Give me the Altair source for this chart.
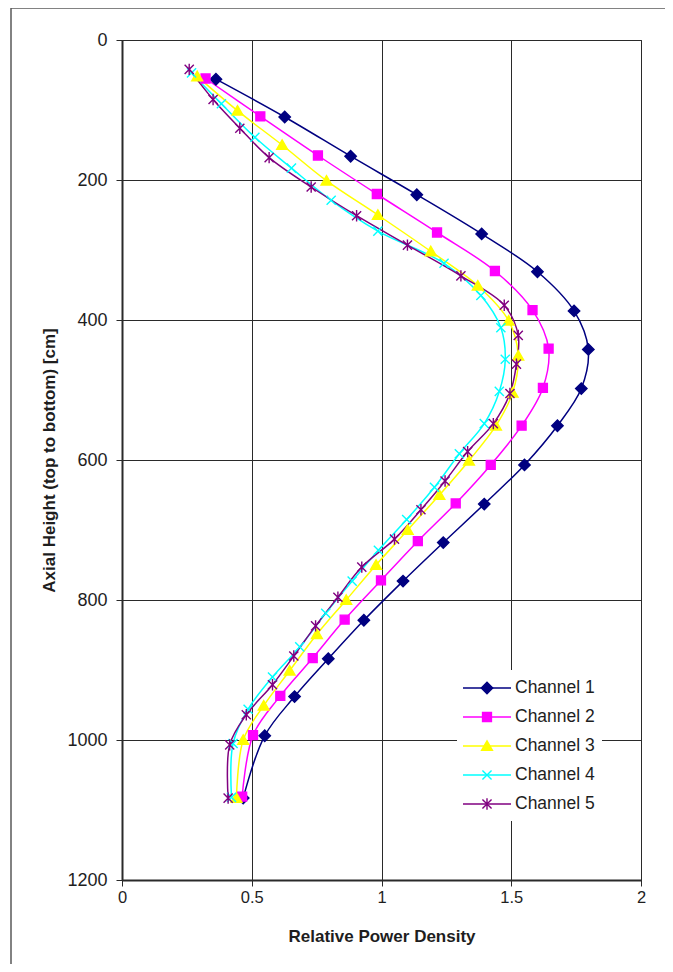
import altair as alt
import pandas as pd

series_names = ["Channel 1", "Channel 2", "Channel 3", "Channel 4", "Channel 5"]

ch1_height = [56, 110, 166, 221, 277, 331, 387, 442, 498, 551, 607, 663, 718, 773, 829, 884, 938, 994, 1083]
ch1_rpd = [0.362, 0.627, 0.881, 1.136, 1.386, 1.601, 1.742, 1.797, 1.770, 1.678, 1.551, 1.396, 1.238, 1.083, 0.932, 0.795, 0.665, 0.550, 0.467]

ch2_height = [55, 109, 165, 220, 275, 330, 386, 441, 497, 551, 607, 662, 716, 772, 828, 883, 937, 993, 1081]
ch2_rpd = [0.322, 0.533, 0.755, 0.982, 1.214, 1.437, 1.582, 1.644, 1.622, 1.540, 1.421, 1.286, 1.140, 0.998, 0.858, 0.735, 0.610, 0.505, 0.463]

ch3_height = [52, 101, 150, 201, 250, 302, 351, 401, 451, 504, 551, 601, 650, 700, 750, 800, 849, 901, 951, 1000, 1083]
ch3_rpd = [0.290, 0.445, 0.617, 0.788, 0.986, 1.190, 1.371, 1.490, 1.527, 1.505, 1.441, 1.337, 1.223, 1.101, 0.979, 0.864, 0.751, 0.646, 0.546, 0.467, 0.441]

ch4_height = [47, 91, 139, 183, 229, 273, 319, 365, 411, 456, 502, 548, 591, 639, 685, 729, 773, 819, 867, 910, 956, 1005, 1082]
ch4_rpd = [0.268, 0.383, 0.512, 0.653, 0.806, 0.986, 1.241, 1.383, 1.460, 1.477, 1.454, 1.396, 1.300, 1.204, 1.097, 0.988, 0.887, 0.785, 0.685, 0.580, 0.486, 0.428, 0.422]

ch5_height = [42, 85, 126, 168, 210, 251, 293, 337, 379, 422, 463, 505, 548, 588, 630, 671, 713, 753, 796, 837, 880, 921, 964, 1007, 1083]
ch5_rpd = [0.259, 0.351, 0.454, 0.567, 0.729, 0.904, 1.100, 1.306, 1.473, 1.527, 1.520, 1.495, 1.431, 1.332, 1.245, 1.152, 1.050, 0.924, 0.832, 0.746, 0.662, 0.580, 0.479, 0.415, 0.409]

x_ticks = [0, 0.5, 1, 1.5, 2]
y_ticks = [0, 200, 400, 600, 800, 1000, 1200]

line_colors = ["#000080", "#FF00FF", "#FFFF00", "#00FFFF", "#800080"]
marker_fills = ["#000080", "#FF00FF", "#FFFF00", "transparent", "transparent"]
marker_shapes = [
    "M0,-1L1,0L0,1L-1,0Z",
    "M-0.78,-0.78L0.78,-0.78L0.78,0.78L-0.78,0.78Z",
    "M0,-0.9L0.95,0.75L-0.95,0.75Z",
    "M-0.8,-0.8L0.8,0.8M-0.8,0.8L0.8,-0.8",
    "M-0.8,-0.8L0.8,0.8M-0.8,0.8L0.8,-0.8M0,-1L0,1",
]

heights = [ch1_height, ch2_height, ch3_height, ch4_height, ch5_height]
values = [ch1_rpd, ch2_rpd, ch3_rpd, ch4_rpd, ch5_rpd]
rows = []
for name, hs, vs in zip(series_names, heights, values):
    for h, v in zip(hs, vs):
        rows.append({"series": name, "height": h, "rpd": v})
df = pd.DataFrame(rows)
legend_df = pd.DataFrame({"series": series_names})

FONT = "Liberation Sans"
TXT = "#1e1e1e"

color_scale = alt.Scale(domain=series_names, range=line_colors)
fill_scale = alt.Scale(domain=series_names, range=marker_fills)
shape_scale = alt.Scale(domain=series_names, range=marker_shapes)

x_enc = alt.X(
    "rpd:Q",
    scale=alt.Scale(domain=[0, 2], nice=False, zero=False),
    axis=alt.Axis(values=x_ticks, format="~g", title="Relative Power Density",
                  labelPadding=3, titlePadding=23, labelFlush=False,
                  labelFontSize=16.5),
)
y_enc = alt.Y(
    "height:Q",
    scale=alt.Scale(domain=[0, 1200], nice=False, reverse=True),
    axis=alt.Axis(values=y_ticks, format="d", title="Axial Height (top to bottom) [cm]",
                  labelPadding=9, titlePadding=8, labelFlush=False,
                  labelFontSize=18),
)

lines = alt.Chart(df).mark_line(strokeWidth=1.5, interpolate="catmull-rom").encode(
    x=x_enc,
    y=y_enc,
    color=alt.Color("series:N", scale=color_scale, legend=None),
    order=alt.Order("height:Q"),
)

points = alt.Chart(df).mark_point(size=130, strokeWidth=1.4, opacity=1).encode(
    x=x_enc,
    y=y_enc,
    shape=alt.Shape("series:N", scale=shape_scale, legend=None),
    fill=alt.Fill("series:N", scale=fill_scale, legend=None),
    stroke=alt.Stroke("series:N", scale=color_scale, legend=None),
)

main = alt.layer(lines, points)

legend_y = alt.Y("series:N", scale=alt.Scale(type="point", domain=series_names,
                                               range=[648, 764], padding=0), axis=None)

legend_bg = alt.Chart(pd.DataFrame({"k": [0]})).mark_rect(fill="white", stroke=None).encode(
    x=alt.value(335), x2=alt.value(480), y=alt.value(630), y2=alt.value(781)
)
legend_rules = alt.Chart(legend_df).mark_rule(strokeWidth=1.5).encode(
    x=alt.value(341), x2=alt.value(389), y=legend_y,
    color=alt.Color("series:N", scale=color_scale, legend=None),
)
legend_points = alt.Chart(legend_df).mark_point(size=130, strokeWidth=1.4, opacity=1).encode(
    x=alt.value(365), y=legend_y,
    shape=alt.Shape("series:N", scale=shape_scale, legend=None),
    fill=alt.Fill("series:N", scale=fill_scale, legend=None),
    stroke=alt.Stroke("series:N", scale=color_scale, legend=None),
)
legend_text = alt.Chart(legend_df).mark_text(
    align="left", baseline="middle", font=FONT, fontSize=17.5, color=TXT
).encode(x=alt.value(393), y=legend_y, text="series:N")

legend = alt.layer(legend_bg, legend_rules, legend_points, legend_text)

frame = alt.Chart(pd.DataFrame({"k": [0]})).mark_rect(
    filled=False, stroke="#5a5a5a", strokeWidth=1.5, clip=False
).encode(x=alt.value(-111), x2=alt.value(900), y=alt.value(-32), y2=alt.value(1300))

chart = alt.layer(main, legend, frame).resolve_scale(y="independent").properties(
    width=519,
    height=840,
    padding={"left": 114, "top": 32, "right": 24, "bottom": 84},
    autosize=alt.AutoSizeParams(type="none"),
    background="white",
).configure_axis(
    labelFont=FONT,
    labelColor=TXT,
    titleFont=FONT,
    titleFontSize=17,
    titleFontWeight="bold",
    titleColor=TXT,
    domainColor="#2a2a2a",
    domainWidth=2,
    tickColor="#2a2a2a",
    tickSize=6,
    tickWidth=1,
    gridColor="#2a2a2a",
    gridWidth=1,
    gridOpacity=1,
).configure_view(
    stroke="#2a2a2a", strokeWidth=1
)

chart.save("out.html", embed_options={"renderer": "svg", "actions": False})
